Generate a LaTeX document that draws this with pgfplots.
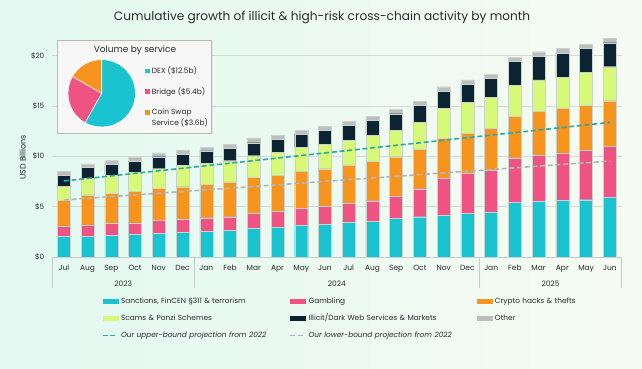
\documentclass[border=0pt]{standalone}
\usepackage{pgfplots}
\pgfplotsset{compat=1.18}
\usepackage{fontspec}
\setmainfont{Poppins}
\definecolor{cSan}{HTML}{19C3CF}
\definecolor{cGam}{HTML}{EF5383}
\definecolor{cHack}{HTML}{F7941D}
\definecolor{cScam}{HTML}{D8F877}
\definecolor{cDark}{HTML}{0C2431}
\definecolor{cOth}{HTML}{BDBDBD}
\definecolor{cUp}{HTML}{2BA9A6}
\definecolor{cLow}{HTML}{B5B5B5}
\definecolor{bgL}{HTML}{E2F9F1}
\definecolor{bgR}{HTML}{F6FBF2}
\definecolor{gridcol}{HTML}{D3DBD7}
\definecolor{sepcol}{HTML}{C4CCC8}
\definecolor{txt}{HTML}{2A2A2A}
\definecolor{barEdge}{HTML}{C9D4CE}
\pgfplotsset{
  legbar/.style={legend image code/.code={\fill[#1] (0bp,-2.2bp) rectangle (15bp,2.2bp);}},
}
\pgfplotstableread{
x san gam hack scam dark oth
0 2.02 1.06 2.58 1.36 1.10 0.40
1 2.08 1.10 2.98 1.65 1.06 0.37
2 2.18 1.13 3.01 1.79 1.09 0.40
3 2.25 1.13 3.14 1.89 1.12 0.40
4 2.38 1.23 3.21 1.95 1.19 0.37
5 2.45 1.29 3.24 2.09 1.16 0.40
6 2.55 1.35 3.32 2.08 1.23 0.39
7 2.62 1.38 3.45 2.11 1.26 0.40
8 2.85 1.49 3.54 2.18 1.29 0.47
9 2.98 1.56 3.57 2.28 1.30 0.42
10 3.18 1.62 3.71 2.38 1.32 0.40
11 3.28 1.72 3.77 2.42 1.39 0.42
12 3.48 1.85 3.81 2.48 1.48 0.40
13 3.57 2.02 3.88 2.58 1.55 0.40
14 3.81 2.25 3.90 2.62 1.65 0.44
15 4.00 2.78 3.92 2.70 1.66 0.43
16 4.17 3.70 3.88 2.98 1.75 0.43
17 4.34 3.97 4.00 3.05 1.82 0.40
18 4.47 4.17 4.17 3.05 1.88 0.43
19 5.43 4.43 4.14 3.08 2.32 0.43
20 5.53 4.60 4.34 3.11 2.38 0.43
21 5.63 4.70 4.40 3.11 2.42 0.46
22 5.69 4.94 4.46 3.25 2.38 0.46
23 5.89 5.10 4.53 3.38 2.38 0.44
}\datatable
\newcommand{\fs}[1]{\fontsize{#1}{#1}\selectfont}
\begin{document}
\begin{tikzpicture}
\begin{scope}[x=1bp,y=1bp,shift={(-52bp,-112bp)}]
\shade[left color=bgL, right color=bgR] (0,0) rectangle (642,369);
\node[font=\fs{12.2}, text=txt] at (322,352) {Cumulative growth of illicit \& high-risk cross-chain activity by month};
\end{scope}
\begin{axis}[
  at={(0,0)}, anchor=south west,
  scale only axis, width=569.7bp, height=221.5bp,
  xmin=-0.5, xmax=23.5, ymin=0, ymax=22,
  ybar stacked, bar width=13bp,
  xtick={0,...,23},
  xticklabels={Jul,Aug,Sep,Oct,Nov,Dec,Jan,Feb,Mar,Apr,May,Jun,Jul,Aug,Sep,Oct,Nov,Dec,Jan,Feb,Mar,Apr,May,Jun},
  ytick={0,5,10,15,20}, yticklabels={\$0,\$5,\$10,\$15,\$20},
  major tick length=0pt,
  ymajorgrids, grid style={gridcol, line width=0.6bp},
  axis line style={draw=none},
  xticklabel style={font=\fs{7.5}, text=txt, anchor=base, inner sep=0pt, yshift=-13.5bp},
  yticklabel style={font=\fs{7.3}, text=txt, anchor=east, inner sep=0pt, xshift=-7.5bp},
  clip=false,
]
\addplot[fill=cSan, draw=barEdge, line width=0.4bp] table[x=x,y=san]{\datatable};
\addplot[fill=cGam, draw=barEdge, line width=0.4bp] table[x=x,y=gam]{\datatable};
\addplot[fill=cHack, draw=barEdge, line width=0.4bp] table[x=x,y=hack]{\datatable};
\addplot[fill=cScam, draw=barEdge, line width=0.4bp] table[x=x,y=scam]{\datatable};
\addplot[fill=cDark, draw=barEdge, line width=0.4bp] table[x=x,y=dark]{\datatable};
\addplot[fill=cOth, draw=barEdge, line width=0.4bp] table[x=x,y=oth]{\datatable};
\draw[sepcol, line width=0.6bp] (axis cs:-0.5,0) -- (axis cs:23.5,0);
\draw[sepcol, line width=0.6bp] (axis cs:-0.5,0) -- ++(0bp,-31bp);
\draw[sepcol, line width=0.6bp] (axis cs:5.5,0) -- ++(0bp,-31bp);
\draw[sepcol, line width=0.6bp] (axis cs:17.5,0) -- ++(0bp,-31bp);
\draw[sepcol, line width=0.6bp] (axis cs:23.5,0) -- ++(0bp,-31bp);
\node[anchor=base, font=\fs{7.5}, text=txt] at ([yshift=-29bp]axis cs:2.5,0) {2023};
\node[anchor=base, font=\fs{7.5}, text=txt] at ([yshift=-29bp]axis cs:11.5,0) {2024};
\node[anchor=base, font=\fs{7.5}, text=txt] at ([yshift=-29bp]axis cs:20.5,0) {2025};
\node[rotate=90, font=\fs{8}, text=txt] at ([xshift=-29.3bp]axis cs:-0.5,9.9) {USD Billions};
\end{axis}
\begin{axis}[
  at={(0,0)}, anchor=south west,
  scale only axis, width=569.7bp, height=221.5bp,
  xmin=-0.5, xmax=23.5, ymin=0, ymax=22,
  hide axis, clip=false,
  legend image code/.code={\draw[#1] (0bp,0bp) -- (15bp,0bp);},
  legend columns=3, legend cell align=left,
  legend style={at={(0,0)}, anchor=north west, xshift=49.7bp, yshift=-40.8bp,
    draw=none, fill=none, inner sep=0pt, row sep=10.6bp,
    font=\fs{7.4}, text=txt,
    nodes={inner sep=0pt, text height=5bp, text depth=1.5bp},
    /tikz/every odd column/.append style={column sep=2.5bp},
    /tikz/every even column/.append style={text width=168.5bp}},
]
\addlegendimage{legbar=cSan}\addlegendentry{Sanctions, FinCEN §311 \& terrorism}
\addlegendimage{legbar=cGam}\addlegendentry{Gambling}
\addlegendimage{legbar=cHack}\addlegendentry{Crypto hacks \& thefts}
\addlegendimage{legbar=cScam}\addlegendentry{Scams \& Ponzi Schemes}
\addlegendimage{legbar=cDark}\addlegendentry{Illicit/Dark Web Services \& Markets}
\addlegendimage{legbar=cOth}\addlegendentry{Other}
\addplot[cUp, line width=1.6bp, dash pattern=on 5bp off 2.7bp] coordinates {(0,7.55) (23,13.37)};
\addlegendentry{\textit{Our upper-bound projection from 2022}}
\addplot[cLow, line width=1.6bp, dash pattern=on 5bp off 2.7bp] coordinates {(0,5.66) (23,9.53)};
\addlegendentry{\textit{Our lower-bound projection from 2022}}
\end{axis}
\begin{scope}[x=1bp,y=1bp,shift={(-52bp,-112bp)}]
\fill[black, opacity=0.06] (58.3,234.7) rectangle (212.7,328);
\draw[fill=white!94!gray, draw=gray!55, line width=0.6bp] (57.3,235.7) rectangle (211.7,329);
\node[font=\fs{9}, text=txt] at (135,319) {Volume by service};
\pgfmathsetmacro\tot{12.5+5.4+3.6}
\pgfmathsetmacro\aA{90-360*12.5/\tot}
\pgfmathsetmacro\aB{\aA-360*5.4/\tot}
\fill[cSan] (101.7,275.7) -- ++(90:33.3bp) arc[start angle=90, end angle=\aA, radius=33.3bp] -- cycle;
\fill[cGam] (101.7,275.7) -- ++(\aA:33.3bp) arc[start angle=\aA, end angle=\aB, radius=33.3bp] -- cycle;
\fill[cHack] (101.7,275.7) -- ++(\aB:33.3bp) arc[start angle=\aB, end angle=-270, radius=33.3bp] -- cycle;
\draw[white, line width=0.7bp] (101.7,275.7) -- ++(90:33.3bp) (101.7,275.7) -- ++(\aA:33.3bp) (101.7,275.7) -- ++(\aB:33.3bp);
\fill[cSan] (145.5,295.75) rectangle (150,300.25);
\fill[cGam] (145.5,275.05) rectangle (150,279.55);
\fill[cHack] (145.5,254.45) rectangle (150,258.95);
\node[anchor=west, inner sep=0pt, font=\fs{7.5}, text=txt] at (151.7,298) {DEX (\$12.5b)};
\node[anchor=west, inner sep=0pt, font=\fs{7.5}, text=txt] at (151.7,277.3) {Bridge (\$5.4b)};
\node[anchor=west, inner sep=0pt, font=\fs{7.5}, text=txt] at (151.7,256.7) {Coin Swap};
\node[anchor=west, inner sep=0pt, font=\fs{7.5}, text=txt] at (151.7,246.7) {Service (\$3.6b)};
\end{scope}
\pgfresetboundingbox
\useasboundingbox (-52bp,-112bp) rectangle (590bp,257bp);
\end{tikzpicture}
\end{document}
